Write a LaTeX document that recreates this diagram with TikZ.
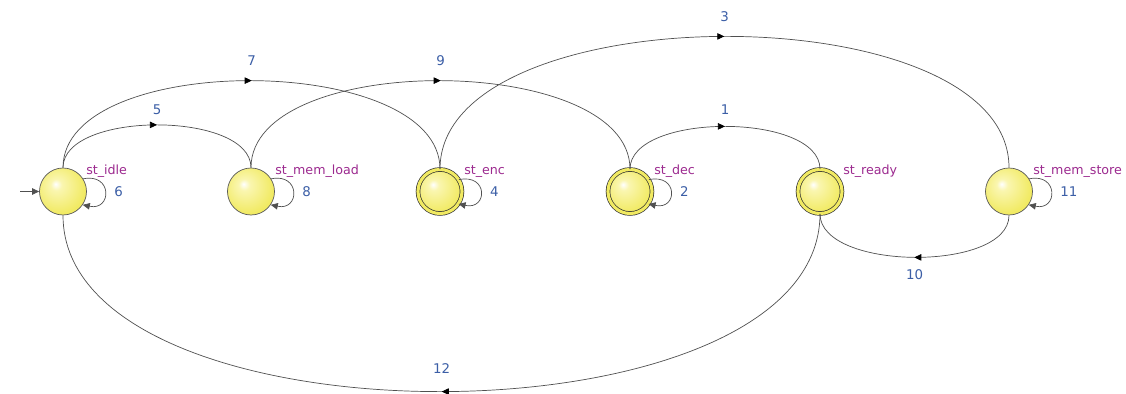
\documentclass[tikz,border=0pt]{standalone}
\usepackage{fontspec}
\setmainfont{DejaVu Sans}
\usepackage{xcolor}
\usetikzlibrary{arrows.meta,calc,decorations.markings}

\definecolor{stateyellow}{HTML}{F1EA62}
\definecolor{paleyellow}{HTML}{FAF6B0}
\definecolor{namepurple}{HTML}{9C2A8F}
\definecolor{numblue}{HTML}{3B5EA6}
\definecolor{edgegray}{HTML}{505050}
\pgfdeclareradialshading{statefill}{\pgfpoint{-8bp}{8bp}}{color(0bp)=(white); color(6bp)=(paleyellow); color(28bp)=(stateyellow); color(60bp)=(stateyellow)}

\begin{document}
\begin{tikzpicture}[
  x=0.025cm, y=0.025cm,
  state/.style={circle, draw=black!65, line width=0.5pt, minimum size=1.175cm, inner sep=0pt,
    shading=statefill},
  accept/.style={state, draw=black!80, minimum size=1.1cm, double=stateyellow, double distance=2.2pt},
  sname/.style={anchor=base west, inner sep=0pt, text=namepurple, font=\fontsize{9}{11}\selectfont},
  num/.style={text=numblue, font=\fontsize{9.5}{11}\selectfont},
  trans/.style={draw=edgegray, line width=0.5pt},
  endtip/.style={-{Triangle[length=5pt,width=4.6pt]}},
  midtr/.style={trans, postaction={decorate}, decoration={markings,
    mark=at position 0.5 with {\arrow[black]{Triangle[length=5pt,width=4.6pt]}}}}
]
  \useasboundingbox (0,0) rectangle (1126,394);

  \node[state] (idle) at (63,202.5) {};
  \node[state] (memload) at (251,202.5) {};
  \node[accept] (enc) at (440,202.5) {};
  \node[accept] (dec) at (630,202.5) {};
  \node[accept] (ready) at (820,202.5) {};
  \node[state] (memstore) at (1009,202.5) {};

  \node[sname] (idlename) at ($(idle)+(23,17)$) {st\_idle};
  \node[sname] (memloadname) at ($(memload)+(24,17)$) {st\_mem\_load};
  \node[sname] (encname) at ($(enc)+(24,17)$) {st\_enc};
  \node[sname] (decname) at ($(dec)+(24,17)$) {st\_dec};
  \node[sname] (readyname) at ($(ready)+(23,17)$) {st\_ready};
  \node[sname] (memstorename) at ($(memstore)+(24,17)$) {st\_mem\_store};

  \coordinate (init) at (20,202.5);
  \draw[trans, endtip] (init) -- (idle);

  \draw[trans, endtip] (idle.32) .. controls +(12:30) and +(-12:30) .. (idle.-34) node[num, midway, right=3pt] (n6) {6};
  \draw[trans, endtip] (memload.32) .. controls +(12:30) and +(-12:30) .. (memload.-34) node[num, midway, right=3pt] (n8) {8};
  \draw[trans, endtip] (enc.32) .. controls +(12:30) and +(-12:30) .. (enc.-34) node[num, midway, right=3pt] (n4) {4};
  \draw[trans, endtip] (dec.32) .. controls +(12:30) and +(-12:30) .. (dec.-34) node[num, midway, right=3pt] (n2) {2};
  \draw[trans, endtip] (memstore.32) .. controls +(12:30) and +(-12:30) .. (memstore.-34) node[num, midway, right=3pt] (n11) {11};

  \draw[midtr] (idle.north) .. controls +(0,57) and +(0,57) .. (memload.north) node[num, midway, above=4pt] (n5) {5};
  \draw[midtr] (idle.north) .. controls +(0,117) and +(0,117) .. (enc.north) node[num, midway, above=7pt] (n7) {7};
  \draw[midtr] (memload.north) .. controls +(0,117) and +(0,117) .. (dec.north) node[num, midway, above=7pt] (n9) {9};
  \draw[midtr] (enc.north) .. controls +(0,176) and +(0,176) .. (memstore.north) node[num, midway, above=7pt] (n3) {3};
  \draw[midtr] (dec.north) .. controls +(0,57) and +(0,57) .. (ready.north) node[num, midway, above=5pt] (n1) {1};
  \draw[midtr] (memstore.south) .. controls +(0,-57) and +(0,-57) .. (ready.south) node[num, midway, below=5pt] (n10) {10};
  \draw[midtr] (ready.south) .. controls +(0,-236) and +(0,-236) .. (idle.south) node[num, midway, above=9pt] (n12) {12};
\end{tikzpicture}
\end{document}
